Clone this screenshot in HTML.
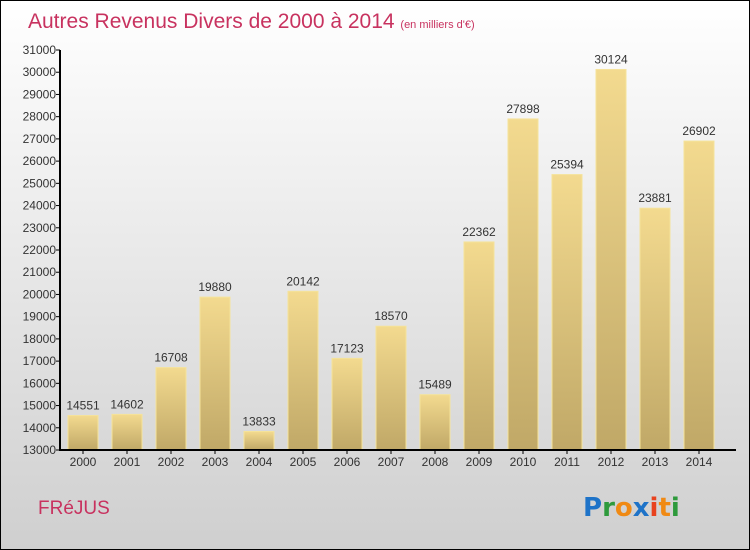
<!DOCTYPE html>
<html><head><meta charset="utf-8"><style>
body{margin:0}
#wrap{position:relative;width:748px;height:548px;border:1px solid #000;background:linear-gradient(#ffffff,#cfcfcf);overflow:hidden;font-family:"Liberation Sans",sans-serif}
</style></head><body>
<div id="wrap">
<svg id="c" width="748" height="548">
<defs><linearGradient id="bg" x1="0" y1="0" x2="0" y2="1"><stop offset="0" stop-color="#f3da8f"/><stop offset="1" stop-color="#c0a867"/></linearGradient></defs>
<text x="27" y="27" font-size="21" fill="#c8325f">Autres Revenus Divers de 2000 à 2014 <tspan font-size="11">(en milliers d'€)</tspan></text>
<text x="37" y="513" font-size="19" fill="#c8325f">FRéJUS</text>
<g font-size="26" font-weight="bold" font-family="'DejaVu Sans',sans-serif">
<text x="582" y="515"><tspan fill="#1e73c8">P</tspan><tspan fill="#2e9a3c">r</tspan><tspan fill="#f08a14">o</tspan><tspan fill="#1e73c8">x</tspan><tspan fill="#e8421e">i</tspan><tspan fill="#f08a14">t</tspan><tspan fill="#2e9a3c">i</tspan></text></g>
<g id="plot"></g>
</svg></div>
<script>
const categories=["2000","2001","2002","2003","2004","2005","2006","2007","2008","2009","2010","2011","2012","2013","2014"];
const values=[14551,14602,16708,19880,13833,20142,17123,18570,15489,22362,27898,25394,30124,23881,26902];
const yTicks=[13000,14000,15000,16000,17000,18000,19000,20000,21000,22000,23000,24000,25000,26000,27000,28000,29000,30000,31000];
const NS="http://www.w3.org/2000/svg";
const g=document.getElementById('plot');
const x0=59,band=44,yMin=13000,yMax=31000,yTop=49,yBot=449;
const y=v=>yBot-(v-yMin)/(yMax-yMin)*(yBot-yTop);
const xb=i=>x0+i*band;
function mk(t,a){const e=document.createElementNS(NS,t);for(const k in a)e.setAttribute(k,a[k]);g.appendChild(e);return e;}
values.forEach((v,i)=>{
 const r=mk('rect',{x:xb(i)+8,y:y(v),width:30,height:yBot-y(v),fill:'url(#bg)',stroke:'#f5e39a','stroke-width':1});
 
 
 const t=mk('text',{x:xb(i)+23,y:y(v)-6,'font-size':12,fill:'#333','text-anchor':'middle'});t.textContent=v;
 
 
 const c=mk('text',{x:xb(i)+23,y:yBot+16,'font-size':12,fill:'#333','text-anchor':'middle'});c.textContent=categories[i];
 
 
 mk('line',{x1:xb(i)+23,x2:xb(i)+23,y1:yBot,y2:yBot+4,stroke:'#000'});
});
yTicks.forEach(v=>{
 mk('line',{x1:x0-4,x2:x0,y1:y(v),y2:y(v),stroke:'#000'});
 const t=mk('text',{x:x0-4,y:y(v)+4,'font-size':12,fill:'#333','text-anchor':'end'});t.textContent=v;
 
 
});
const ya=mk('line',{x1:x0,x2:x0,y1:yTop,y2:yBot+1,stroke:'#000','stroke-width':2});


const xa=mk('line',{x1:x0,x2:735,y1:yBot,y2:yBot,stroke:'#000','stroke-width':2});


</script>
</body></html>
